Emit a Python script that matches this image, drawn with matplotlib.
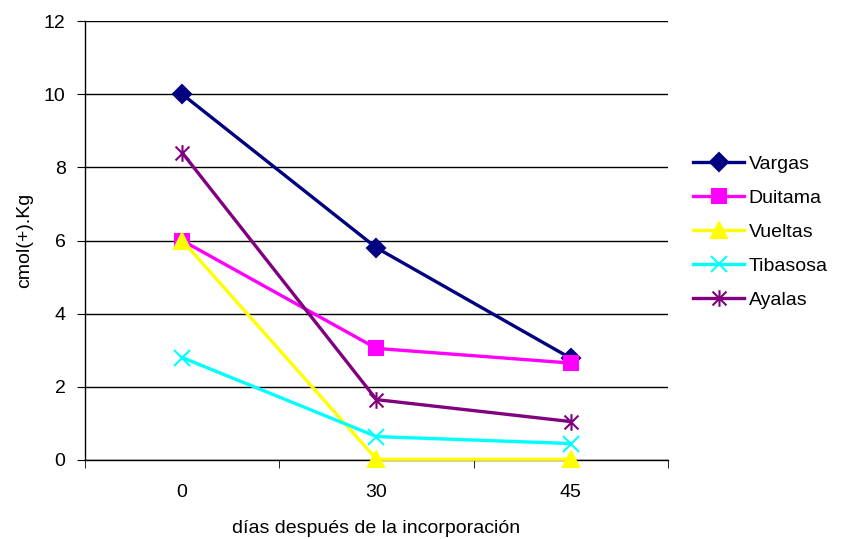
import matplotlib.pyplot as plt
import numpy as np
from matplotlib.path import Path

plt.rcParams['font.family'] = ['Liberation Sans', 'DejaVu Sans']

dias = ["0", "30", "45"]
vargas = [10.0, 5.8, 2.78]
duitama = [6.0, 3.05, 2.65]
vueltas = [6.0, 0.02, 0.02]
tibasosa = [2.8, 0.64, 0.45]
ayalas = [8.4, 1.65, 1.05]

# asterisk marker like excel: an X with a vertical stroke
star = Path([(-1, -1), (1, 1), (-1, 1), (1, -1), (0, -1.2), (0, 1.2)],
            [Path.MOVETO, Path.LINETO, Path.MOVETO, Path.LINETO, Path.MOVETO, Path.LINETO])

series = [
    ("Vargas", vargas, "#000080", "D", 9),
    ("Duitama", duitama, "#ff00ff", "s", 10),
    ("Vueltas", vueltas, "#ffff00", "^", 11),
    ("Tibasosa", tibasosa, "#00ffff", "x", 11),
    ("Ayalas", ayalas, "#800080", star, 12),
]

fig = plt.figure(figsize=(8.45, 5.39), dpi=100)
ax = fig.add_axes([0.1006, 0.1466, 0.6899, 0.8144])

x = np.arange(len(dias))
ax.set_ylim(0, 12)
ax.set_xlim(-0.5, len(dias) - 0.5)
ax.set_yticks(np.arange(0, 13, 2))
ax.yaxis.grid(True, color="black", linewidth=1)
ax.set_axisbelow(True)

for name, vals, color, marker, ms in series:
    ax.plot(x, vals, color=color, linewidth=2.4, marker=marker, markersize=ms,
            markerfacecolor=color, markeredgecolor=color, markeredgewidth=1.5,
            label=name, clip_on=False, zorder=3)

fs = 14
ax.set_xticks(x)
ax.set_xticklabels(dias)
ax.tick_params(axis="x", length=0, pad=17, labelsize=fs)
ax.set_xticks(np.arange(-0.5, len(dias), 1), minor=True)
ax.tick_params(axis="x", which="minor", length=6, direction="out", color="black")
ax.tick_params(axis="y", length=6, direction="out", labelsize=fs, pad=8)

for s in ["top", "right"]:
    ax.spines[s].set_visible(False)
for s in ["left", "bottom"]:
    ax.spines[s].set_color("black")
    ax.spines[s].set_linewidth(1)

ax.set_xlabel("días después de la incorporación", fontsize=fs, labelpad=14)
ax.set_ylabel("cmol(+).Kg", fontsize=fs, labelpad=8)

ax.legend(loc="center left", bbox_to_anchor=(1.03, 0.519), frameon=False,
          fontsize=fs, handlelength=2.6, labelspacing=0.85, handletextpad=0.25,
          borderaxespad=0)

fig.savefig("out.png", dpi=100)
